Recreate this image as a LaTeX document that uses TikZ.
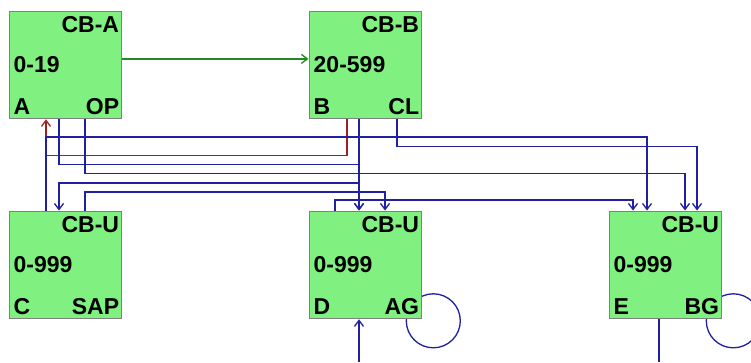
\documentclass[tikz,border=0pt]{standalone}
\usepackage{fontspec}
\setmainfont{Liberation Sans}
\usetikzlibrary{arrows.meta,backgrounds}
\definecolor{boxgreen}{RGB}{128,240,128}
\definecolor{boxgray}{RGB}{128,128,128}
\definecolor{wire}{RGB}{32,32,160}
\definecolor{wirered}{RGB}{160,32,32}
\definecolor{wiregreen}{RGB}{32,140,32}
\begin{document}
\begin{tikzpicture}[x=1pt,y=-1pt,
  cbbox/.style={draw=boxgray,line width=1.8pt,fill=boxgreen,minimum width=112pt,minimum height=107pt,anchor=north west,inner sep=0pt},
  lbl/.style={font=\fontsize{23}{25}\selectfont\bfseries,inner sep=0pt},
  wireline/.style={draw=wire,line width=1.3pt},
  wireb/.style={wireline,-{Straight Barb[length=6pt,width=9pt]}},
  wirer/.style={draw=wirered,line width=1.3pt,-{Straight Barb[length=6pt,width=9pt]}},
  wireg/.style={draw=wiregreen,line width=1.3pt,-{Straight Barb[length=6pt,width=9pt]}}
]
\useasboundingbox (0,0) rectangle (751,362);

% boxes
\node[cbbox] (A) at (8.5,10.5) {};
\node[cbbox] (B) at (308.5,10.5) {};
\node[cbbox] (C) at (8.5,210.5) {};
\node[cbbox] (D) at (308.5,210.5) {};
\node[cbbox] (E) at (608.5,210.5) {};

% labels
\foreach \b/\t/\r/\l/\rr in {A/CB-A/0-19/A/OP, B/CB-B/20-599/B/CL, C/CB-U/0-999/C/SAP, D/CB-U/0-999/D/AG, E/CB-U/0-999/E/BG}{
  \node[lbl,anchor=base east] (\b t) at ([xshift=-3pt,yshift=-22pt]\b.north east) {\t};
  \node[lbl,anchor=base west] (\b r) at ([xshift=5pt,yshift=-61.5pt]\b.north west) {\r};
  \node[lbl,anchor=base west] (\b l) at ([xshift=5pt,yshift=5pt]\b.south west) {\l};
  \node[lbl,anchor=base east] (\b p) at ([xshift=-3pt,yshift=5pt]\b.south east) {\rr};
}

% self loops behind the boxes
\begin{scope}[on background layer]
  \draw[wireline] ([xshift=11pt,yshift=-1.5pt]D.south east) circle[radius=27pt];
  \draw[wireline] ([xshift=11pt,yshift=-1.5pt]E.south east) circle[radius=27pt];
\end{scope}

% connectors
\draw[wireg] ([yshift=6pt]A.east) -- ([yshift=6pt]B.west);
\draw[wirer] (347,0 |- B.south) |- (46,155.5) -- (46,0 |- A.south);
\draw[wireb] (46,0 |- C.north) |- (647,137) -- (647,0 |- E.north);
\draw[wireb] (397,0 |- B.south) |- (697,146.5) -- (697,0 |- E.north);
\draw[wireb] (85,0 |- A.south) |- (685,173.5) -- (685,0 |- E.north);
\draw[wireb] (59,0 |- A.south) |- (359,164.5) -- (359,0 |- D.north);
\draw[wireb] (359,0 |- B.south) -- (359,0 |- D.north);
\draw[wireb] (359,0 |- B.south) |- (59,183) -- (59,0 |- C.north);
\draw[wireb] (85,0 |- C.north) |- (385,192) -- (385,0 |- D.north);
\draw[wireb] (335,0 |- D.north) |- (633,200) -- (633,0 |- E.north);
\coordinate (Din) at (359,362);
\coordinate (Eout) at (659,362);
\draw[wireb] (Din) -- (359,0 |- D.south);
\draw[wireline] (659,0 |- E.south) -- (Eout);
\end{tikzpicture}
\end{document}
